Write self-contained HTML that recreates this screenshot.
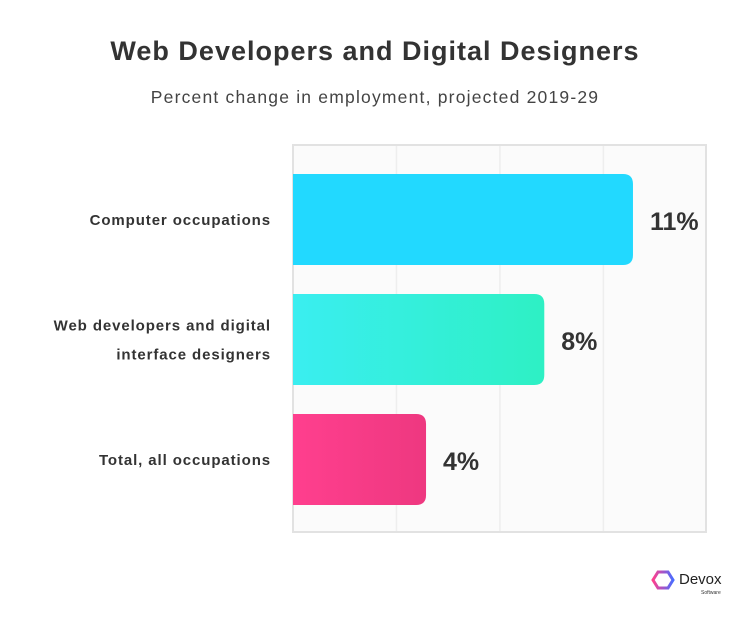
<!DOCTYPE html>
<html><head><meta charset="utf-8"><style>
body{margin:0;width:750px;height:614px;background:#fff;font-family:"Liberation Sans",sans-serif;overflow:hidden}
</style></head><body>
<svg width="750" height="614">
<defs>
<linearGradient id="g0" x1="0" x2="1"><stop offset="0" stop-color="#22d9ff"/><stop offset="1" stop-color="#22d9ff"/></linearGradient>
<linearGradient id="g1" x1="0" x2="1"><stop offset="0" stop-color="#3aeef0"/><stop offset="1" stop-color="#2ef0c4"/></linearGradient>
<linearGradient id="g2" x1="0" x2="1"><stop offset="0" stop-color="#ff3f8e"/><stop offset="1" stop-color="#ee3880"/></linearGradient>
<linearGradient id="lg" x1="0" x2="1"><stop offset="0" stop-color="#ff3f8e"/><stop offset="1" stop-color="#4a6cff"/></linearGradient>
</defs>
<text x="375" y="60" text-anchor="middle" font-size="27" font-weight="bold" letter-spacing="1" fill="#333">Web Developers and Digital Designers</text>
<text x="375" y="103" text-anchor="middle" font-size="17.5" letter-spacing="1.2" fill="#444">Percent change in employment, projected 2019-29</text>
<rect x="293" y="145" width="413" height="387" fill="#fbfbfb" stroke="#e2e2e2" stroke-width="2"/>
<g id="grid"></g>
<g id="bars"></g>
<g>
<path d="M658 572 l10 0 l5 8 l-5 8 l-10 0 l-5 -8 z" fill="none" stroke="url(#lg)" stroke-width="3"/>
<text x="679" y="584" font-size="15" fill="#222">Devox</text>
<text x="701" y="594" font-size="5" fill="#333">Software</text>
</g>
</svg>
<script>
const categories=["Computer occupations","Web developers and digital|interface designers","Total, all occupations"];
const values=[11,8,4];
const labels=["11%","8%","4%"];
const gridTicks=[3,6.5,10];
const x0=293,xMin=-0.5,xMax=13.47,plotW=413;
const xs=v=>x0+(v-xMin)/(xMax-xMin)*plotW;
const rowY=i=>174+i*120;
const NS="http://www.w3.org/2000/svg";
const grid=document.getElementById('grid'),bars=document.getElementById('bars');
gridTicks.forEach(t=>{
const l=document.createElementNS(NS,'line');
l.setAttribute('x1',xs(t));l.setAttribute('x2',xs(t));l.setAttribute('y1',146);l.setAttribute('y2',531);
l.setAttribute('stroke','#eeeeee');l.setAttribute('stroke-width','1.5');


grid.appendChild(l);});
values.forEach((v,i)=>{
const y=rowY(i),w=xs(v)-x0;
const p=document.createElementNS(NS,'path');
p.setAttribute('d',`M${x0} ${y}H${x0+w-10}Q${x0+w} ${y} ${x0+w} ${y+10}V${y+81}Q${x0+w} ${y+91} ${x0+w-10} ${y+91}H${x0}Z`);
p.setAttribute('fill',`url(#g${i})`);


bars.appendChild(p);
const t=document.createElementNS(NS,'text');
t.setAttribute('x',xs(v)+17);t.setAttribute('y',y+56);
t.setAttribute('font-size','25');t.setAttribute('font-weight','bold');t.setAttribute('fill','#333');
t.textContent=labels[i];


bars.appendChild(t);
const parts=categories[i].split('|');
parts.forEach((s,j)=>{
const c=document.createElementNS(NS,'text');
c.setAttribute('x',271);c.setAttribute('y',y+51+(j-(parts.length-1)/2)*29);
c.setAttribute('text-anchor','end');c.setAttribute('font-size','15');c.setAttribute('font-weight','bold');c.setAttribute('letter-spacing','0.9');c.setAttribute('fill','#333');
c.textContent=s;


bars.appendChild(c);});
});
</script>
</body></html>
